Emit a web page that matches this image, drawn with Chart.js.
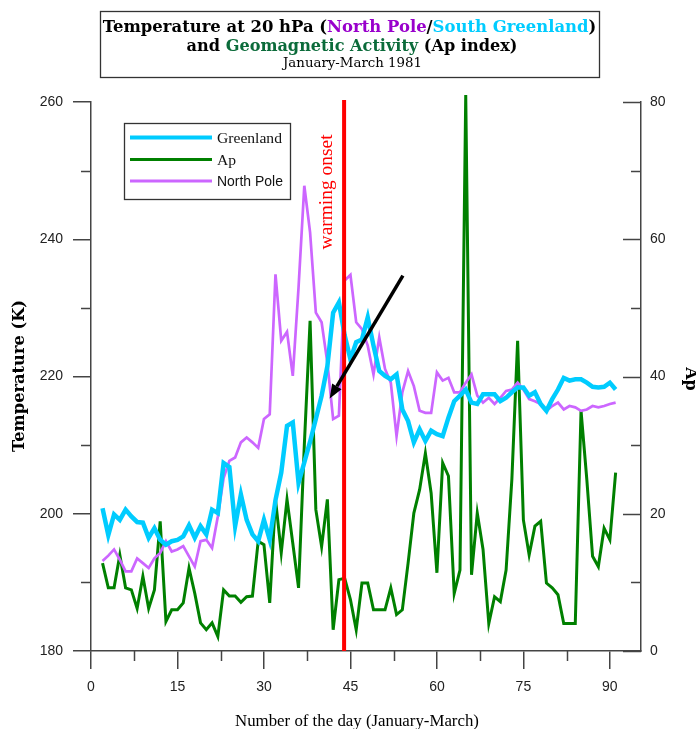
<!DOCTYPE html>
<html><head><meta charset="utf-8">
<script src="https://cdn.jsdelivr.net/npm/chart.js@4.4.1/dist/chart.umd.min.js"></script>
<style>html,body{margin:0;padding:0;background:#fff}#wrap{width:696px;height:729px;position:relative}</style>
</head><body><div id="wrap"><canvas id="c"></canvas></div>
<script>
// ---- data ----
const days = [2,3,4,5,6,7,8,9,10,11,12,13,14,15,16,17,18,19,20,21,22,23,24,25,26,27,28,29,30,31,32,33,34,35,36,37,38,39,40,41,42,43,44,45,46,47,48,49,50,51,52,53,54,55,56,57,58,59,60,61,62,63,64,65,66,67,68,69,70,71,72,73,74,75,76,77,78,79,80,81,82,83,84,85,86,87,88,89,90,91];
const greenland = [200.8,196.9,199.9,199.1,200.6,199.6,198.8,198.7,196.5,197.9,196.2,195.5,196,196.2,196.7,198.3,196.5,198.2,197,200.6,200.1,207.4,206.8,198.2,202.8,199.1,197,196,199.1,196.2,202,206,212.8,213.3,204.5,207.5,210.5,213.8,217.2,221.5,229.3,230.8,226,222.5,225,225.4,228.6,224.5,220.8,220.1,219.6,220.3,215.2,213.5,210.4,212.3,210.6,212.1,211.6,211.3,214,216.4,217.2,218.1,216.2,216,217.4,217.4,217.4,216.4,216.9,217.7,218.4,218.4,217.2,217.7,216,215,216.7,218.1,219.8,219.4,219.6,219.6,219.1,218.5,218.4,218.5,219.1,218.1];
const apIndex = [12.8,9.2,9.2,14,9.2,8.9,6.2,10.9,6.2,8.9,18.9,4.3,6,6,7,12.1,8.4,4.1,3.1,4.1,2.1,8.9,8,8,7.1,7.9,8,16,15.5,7,22.1,14.3,22.1,15.7,9.2,30,48.1,20.6,15.2,22.1,3.1,10.4,10.6,7.5,3.1,9.9,9.9,6,6,6,9.2,5.3,6,12.8,20.1,23.5,28.8,23,11.4,27.4,25.5,8.4,11.8,81,11.1,20.1,14.8,4,7.9,7.2,11.8,25,45.2,19.1,14,18.2,18.9,9.9,9.2,8.2,4,4,4,35,25,13.8,12.3,17.9,16.2,26];
const northPole = [193.1,193.9,194.8,193.3,191.6,191.6,193.5,192.8,192.1,193.5,194.3,196,194.5,194.8,195.3,193.8,192.3,196,196.2,195,199.6,205.2,207.7,208.2,210.4,211.1,210.4,209.6,213.8,214.5,234.9,225.2,226.5,220.1,233,247.8,241,229.3,227.9,222,213.8,214.3,234,234.8,227.9,226.9,224.5,220.3,225.7,221.1,219.1,211.3,217.7,220.8,218.6,215,214.7,214.7,220.6,219.4,219.8,217.7,217.7,219.1,220.3,217.2,216.2,216.9,216,216.9,217.9,218.1,219.1,218.1,216.7,216.4,216,215,215.7,216.2,215.2,215.7,215.5,215,215.2,215.7,215.5,215.7,216,216.2];
const xTickValues = [0,15,30,45,60,75,90];
const xMinorTicks = [7.5,22.5,37.5,52.5,67.5,82.5];
const tempTicks = [180,200,220,240,260];
const tempMinorTicks = [190,210,230,250];
const apTicks = [0,20,40,60,80];
const apMinorTicks = [10,30,50,70];
const onsetDay = 43.9;
// annotation anchors in data coordinates (day, K)
const arrowTail = {day: 54.1, temp: 234.7};
const arrowHead = {day: 41.4, temp: 216.8};
const onsetLabel = {day: 41.0, temp: 246.9};

const COL = {cyan:'#00CCFF', green:'#008000', purple:'#CC66FF', red:'#FF0000', axis:'#444444', text:'#222222', tPurple:'#9900CC', tGreen:'#0B6B3A'};
const SERIF_B = '"DejaVu Serif", serif';
const TIMES = '"Liberation Serif", "Times New Roman", serif';
const SANS = '"Liberation Sans", Arial, sans-serif';

function fitSize(ctx, text, weight, fam, target, base) {
  ctx.font = weight + ' ' + base + 'px ' + fam;
  return base * target / ctx.measureText(text).width;
}
function drawSegments(ctx, segs, weight, fam, target, cx, baseY) {
  const full = segs.map(s => s[0]).join('');
  const size = fitSize(ctx, full, weight, fam, target, 16);
  ctx.font = weight + ' ' + size + 'px ' + fam;
  const total = ctx.measureText(full).width;
  let x = cx - total / 2;
  ctx.textAlign = 'left'; ctx.textBaseline = 'alphabetic';
  for (const [t, c] of segs) { ctx.fillStyle = c; ctx.fillText(t, x, baseY); x += ctx.measureText(t).width; }
}

const decor = {
  id: 'decor',
  afterDatasetsDraw(chart) {
    const {ctx, chartArea: a, scales: {x, y, y1}} = chart;
    ctx.save();
    ctx.strokeStyle = COL.axis; ctx.lineWidth = 1.5;
    ctx.beginPath();
    xMinorTicks.forEach(v => { const px = Math.round(x.getPixelForValue(v)) + 0.5; ctx.moveTo(px, a.bottom); ctx.lineTo(px, a.bottom + 10); });
    tempMinorTicks.forEach(v => { const py = Math.round(y.getPixelForValue(v)) + 0.5; ctx.moveTo(a.left, py); ctx.lineTo(a.left - 10, py); });
    apTicks.forEach(v => { const py = Math.round(y1.getPixelForValue(v)) + 0.5; ctx.moveTo(a.right, py); ctx.lineTo(a.right - 18, py); });
    apMinorTicks.forEach(v => { const py = Math.round(y1.getPixelForValue(v)) + 0.5; ctx.moveTo(a.right, py); ctx.lineTo(a.right - 10, py); });
    ctx.stroke();
    const ox = x.getPixelForValue(onsetDay);
    ctx.strokeStyle = COL.red; ctx.lineWidth = 4;
    ctx.beginPath(); ctx.moveTo(ox, a.top - 2); ctx.lineTo(ox, a.bottom); ctx.stroke();
    const lx = x.getPixelForValue(onsetLabel.day), ly = y.getPixelForValue(onsetLabel.temp);
    const ls = fitSize(ctx, 'warming onset', 'normal', TIMES, 115, 18);
    ctx.save(); ctx.translate(lx, ly); ctx.rotate(-Math.PI / 2);
    ctx.font = 'normal ' + ls + 'px ' + TIMES; ctx.fillStyle = COL.red;
    ctx.textAlign = 'center'; ctx.textBaseline = 'middle'; ctx.fillText('warming onset', 0, 0);
    ctx.restore();
    const tx = x.getPixelForValue(arrowTail.day), ty = y.getPixelForValue(arrowTail.temp);
    const hx = x.getPixelForValue(arrowHead.day), hy = y.getPixelForValue(arrowHead.temp);
    const ang = Math.atan2(hy - ty, hx - tx), hl = 14, hw = 5.5;
    const bx = hx - hl * Math.cos(ang), by = hy - hl * Math.sin(ang);
    ctx.strokeStyle = '#000'; ctx.fillStyle = '#000'; ctx.lineWidth = 3.5; ctx.lineCap = 'butt';
    ctx.beginPath(); ctx.moveTo(tx, ty); ctx.lineTo(bx, by); ctx.stroke();
    ctx.beginPath(); ctx.moveTo(hx, hy);
    ctx.lineTo(bx + hw * Math.sin(ang), by - hw * Math.cos(ang));
    ctx.lineTo(bx - hw * Math.sin(ang), by + hw * Math.cos(ang));
    ctx.closePath(); ctx.fill();
    ctx.restore();
  },
  afterDraw(chart) {
    const ctx = chart.ctx;
    const ds = chart.data.datasets;
    ctx.save();
    ctx.strokeStyle = '#333'; ctx.lineWidth = 1.3;
    ctx.strokeRect(100.5, 11.5, 499, 66);
    drawSegments(ctx, [['Temperature at 20 hPa (', '#000'], ['North Pole', COL.tPurple], ['/', '#000'], ['South Greenland', COL.cyan], [')', '#000']], 'bold', SERIF_B, 494, 349.5, 32);
    drawSegments(ctx, [['and ', '#000'], ['Geomagnetic Activity', COL.tGreen], [' (Ap index)', '#000']], 'bold', SERIF_B, 331, 352, 50.5);
    drawSegments(ctx, [['January-March 1981', '#000']], 'normal', SERIF_B, 139, 352.5, 67);
    ctx.strokeStyle = '#333'; ctx.lineWidth = 1.3;
    ctx.strokeRect(124.5, 123.5, 166, 76);
    const rows = [
      {ds: ds[0], y: 137.5, fam: TIMES, w: 65},
      {ds: ds[1], y: 159.5, fam: TIMES, w: null},
      {ds: ds[2], y: 181, fam: SANS, w: 66}
    ];
    const tsize = fitSize(ctx, 'Greenland', 'normal', TIMES, 65, 16);
    rows.forEach(r => {
      ctx.strokeStyle = r.ds.borderColor; ctx.lineWidth = r.ds === ds[0] ? 4 : 3;
      ctx.beginPath(); ctx.moveTo(130, r.y); ctx.lineTo(212, r.y); ctx.stroke();
      const s = r.w ? fitSize(ctx, r.ds.label, 'normal', r.fam, r.w, 15) : tsize;
      ctx.font = 'normal ' + s + 'px ' + r.fam; ctx.fillStyle = '#111';
      ctx.textAlign = 'left'; ctx.textBaseline = 'middle';
      ctx.fillText(r.ds.label, 217, r.y + 1);
    });
    const s1 = fitSize(ctx, 'Temperature (K)', 'bold', SERIF_B, 152, 15);
    ctx.save(); ctx.translate(20, 376); ctx.rotate(-Math.PI / 2);
    ctx.font = 'bold ' + s1 + 'px ' + SERIF_B; ctx.fillStyle = '#000';
    ctx.textAlign = 'center'; ctx.textBaseline = 'middle'; ctx.fillText('Temperature (K)', 0, 0);
    ctx.restore();
    ctx.save(); ctx.translate(690, 379); ctx.rotate(Math.PI / 2);
    ctx.font = 'bold 16px ' + SERIF_B; ctx.fillStyle = '#000';
    ctx.textAlign = 'center'; ctx.textBaseline = 'middle'; ctx.fillText('Ap', 0, 0);
    ctx.restore();
    const s2 = fitSize(ctx, 'Number of the day (January-March)', 'normal', TIMES, 244, 15);
    ctx.font = 'normal ' + s2 + 'px ' + TIMES; ctx.fillStyle = '#000';
    ctx.textAlign = 'center'; ctx.textBaseline = 'middle';
    ctx.fillText('Number of the day (January-March)', 357, 722);
    ctx.restore();
  }
};

const pts = arr => days.map((d, i) => ({x: d, y: arr[i]}));
const tickFont = {family: SANS, size: 14};

new Chart(document.getElementById('c'), {
  type: 'line',
  data: {
    datasets: [
      {label: 'Greenland', data: pts(greenland), borderColor: COL.cyan, borderWidth: 4.5, yAxisID: 'y', order: 0},
      {label: 'Ap', data: pts(apIndex), borderColor: COL.green, borderWidth: 3, yAxisID: 'y1', order: 2, clip: false},
      {label: 'North Pole', data: pts(northPole), borderColor: COL.purple, borderWidth: 2.7, yAxisID: 'y', order: 1}
    ]
  },
  options: {
    responsive: true, maintainAspectRatio: false, animation: false, devicePixelRatio: 1,
    layout: {padding: {top: 102, left: 0, right: 0, bottom: 0}},
    elements: {point: {radius: 0}, line: {tension: 0, borderJoinStyle: 'miter', fill: false}},
    plugins: {legend: {display: false}, title: {display: false}, tooltip: {enabled: false}},
    scales: {
      x: {
        type: 'linear', position: 'bottom', min: 0, max: 95.4,
        afterBuildTicks: s => { s.ticks = xTickValues.map(v => ({value: v})); },
        afterFit: s => { s.height = 78; },
        ticks: {font: tickFont, color: COL.text, padding: 10, maxRotation: 0, includeBounds: false},
        grid: {drawOnChartArea: false, drawTicks: true, tickLength: 18, color: COL.axis, lineWidth: 1.5},
        border: {display: true, color: COL.axis, width: 1.5}
      },
      y: {
        type: 'linear', position: 'left', min: 180, max: 260,
        afterBuildTicks: s => { s.ticks = tempTicks.map(v => ({value: v})); },
        afterFit: s => { s.width = 91; },
        ticks: {font: tickFont, color: COL.text, padding: 10},
        grid: {drawOnChartArea: false, drawTicks: true, tickLength: 18, color: COL.axis, lineWidth: 1.5},
        border: {display: true, color: COL.axis, width: 1.5}
      },
      y1: {
        type: 'linear', position: 'right', min: 0, max: 80,
        afterBuildTicks: s => { s.ticks = apTicks.map(v => ({value: v})); },
        afterFit: s => { s.width = 55; },
        ticks: {font: tickFont, color: COL.text, padding: 9},
        grid: {display: true, drawOnChartArea: false, drawTicks: false},
        border: {display: true, color: COL.axis, width: 1.5}
      }
    }
  },
  plugins: [decor]
});
</script>
</body></html>
